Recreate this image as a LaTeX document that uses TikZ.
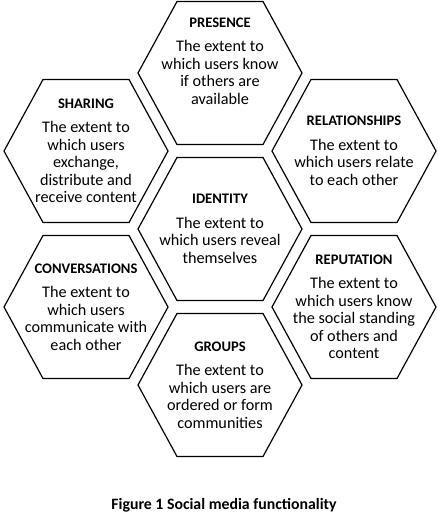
\documentclass[tikz,border=0pt]{standalone}
\usepackage{fontspec}
\setmainfont{Carlito}
\usepackage{tikz}

\tikzset{
  hexline/.style={black, line width=1.2pt, line join=miter},
  hextext/.style={align=center, inner sep=0pt, font=\fontsize{16.2}{17.5}\selectfont},
}
\newcommand{\hextitle}[1]{{\fontsize{14.6}{17.5}\selectfont\bfseries #1}\\[7pt]}

\begin{document}
\begin{tikzpicture}[x=1pt,y=-1pt]
  \useasboundingbox (0,0) rectangle (438,517);
  % centres of the seven cells
  \coordinate (presence) at (220,73);
  \coordinate (identity) at (220,229);
  \coordinate (groups) at (220,385);
  \coordinate (sharing) at (86,151);
  \coordinate (conversations) at (86,307);
  \coordinate (relationships) at (354,151);
  \coordinate (reputation) at (354,307);
  \foreach \c in {presence, identity, groups, sharing, conversations, relationships, reputation}
    \draw[hexline] (\c) +(-82,0) -- +(-43,-71.5) -- +(43,-71.5) -- +(82,0)
      -- +(43,71.5) -- +(-43,71.5) -- cycle;
  \node[hextext] (presencetxt) at (220,61)
    {\hextitle{PRESENCE}The extent to\\which users know\\if others are\\available};
  \node[hextext] (identitytxt) at (identity)
    {\hextitle{IDENTITY}The extent to\\which users reveal\\themselves};
  \node[hextext] (groupstxt) at (groups)
    {\hextitle{GROUPS}The extent to\\which users are\\ordered or form\\communities};
  \node[hextext] (sharingtxt) at (sharing)
    {\hextitle{SHARING}The extent to\\which users\\exchange,\\distribute and\\receive content};
  \node[hextext] (conversationstxt) at (conversations)
    {\hextitle{CONVERSATIONS}The extent to\\which users\\communicate with\\each other};
  \node[hextext] (relationshipstxt) at (relationships)
    {\hextitle{RELATIONSHIPS}The extent to\\which users relate\\to each other};
  \node[hextext] (reputationtxt) at (reputation)
    {\hextitle{REPUTATION}The extent to\\which users know\\the social standing\\of others and\\content};
  \node[font=\fontsize{15.8}{18}\selectfont\bfseries] (caption) at (224,505)
    {Figure 1 Social media functionality};
\end{tikzpicture}
\end{document}
